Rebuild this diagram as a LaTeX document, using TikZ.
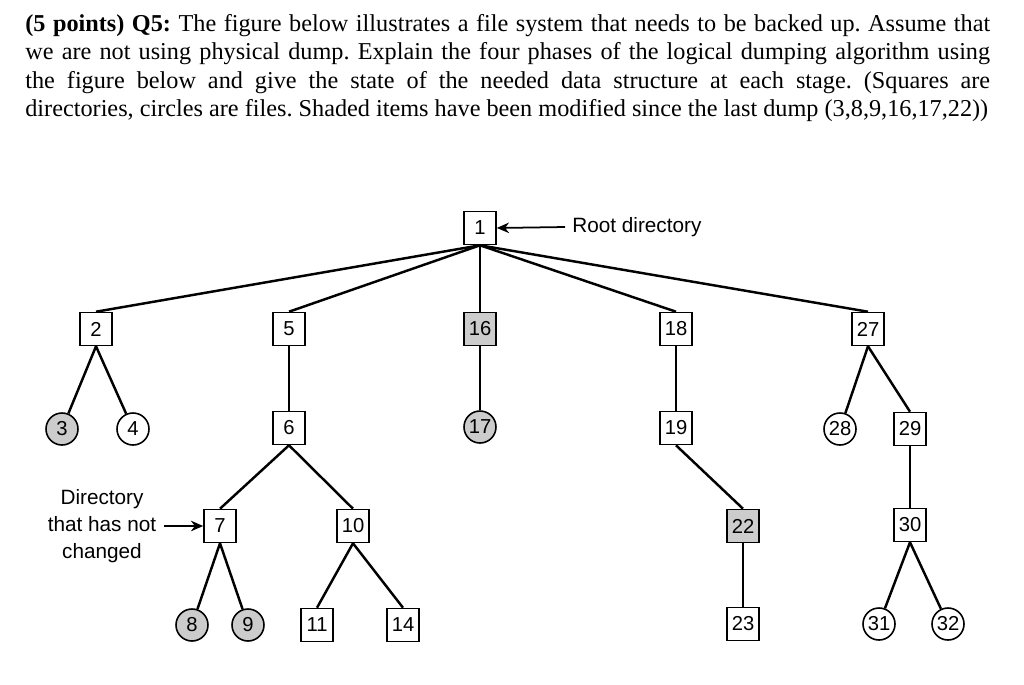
\documentclass[tikz,border=0pt]{standalone}
\usepackage{fontspec}
\setmainfont{Liberation Serif}
\newfontfamily\labelfont{Liberation Sans}
\usetikzlibrary{arrows.meta, positioning}
\definecolor{modgray}{HTML}{CCCCCC}

\begin{document}
\begin{tikzpicture}[x=0.02cm, y=-0.02cm,
  dirbox/.style={draw, line width=0.9pt, minimum width=0.64cm, minimum height=0.66cm,
    inner sep=0pt, font=\labelfont\fontsize{11.5}{12}\selectfont},
  filenode/.style={draw, circle, line width=0.9pt, minimum size=0.64cm,
    inner sep=0pt, font=\labelfont\fontsize{11.5}{12}\selectfont},
  changed/.style={fill=modgray},
  edge/.style={line width=1.4pt},
  pointer/.style={line width=1pt, -{Stealth[length=7pt, width=6pt]}},
  note/.style={font=\labelfont\fontsize{11.8}{15.3}\selectfont, inner xsep=4pt}]

  \useasboundingbox (0,0) rectangle (1024,684);

  % question text
  \node[anchor=north west, inner sep=0pt, text width=19.3cm, align=justify,
        font=\fontsize{13.8}{16.2}\selectfont] (question) at (25,14) {%
    \frenchspacing\parfillskip=0pt
    \textbf{(5 points) Q5:} The figure below illustrates a file system that needs to be backed up. Assume that\linebreak
    we are not using physical dump. Explain the four phases of the logical dumping algorithm using\linebreak
    the figure below and give the state of the needed data structure at each stage. (Squares are\linebreak
    directories, circles are files. Shaded items have been modified since the last dump (3,8,9,16,17,22))};

  % tree
  \node[dirbox] (n1) at (480,228) {1};

  \node[dirbox] (n2) at (96,329) {2};
  \node[dirbox] (n5) at (289,329) {5};
  \node[dirbox, changed] (n16) at (480,329) {16};
  \node[dirbox] (n18) at (676,329) {18};
  \node[dirbox] (n27) at (868,329) {27};

  \node[filenode, changed] (n3) at (62,429) {3};
  \node[filenode] (n4) at (133,429) {4};
  \node[dirbox] (n6) at (289,428) {6};
  \node[filenode, changed] (n17) at (480,427) {17};
  \node[dirbox] (n19) at (676,428) {19};
  \node[filenode] (n28) at (840,429) {28};
  \node[dirbox] (n29) at (910,429) {29};

  \node[dirbox] (n7) at (220,526) {7};
  \node[dirbox] (n10) at (353,526) {10};
  \node[dirbox, changed] (n22) at (743,526) {22};
  \node[dirbox] (n30) at (910,525) {30};

  \node[filenode, changed] (n8) at (192,625) {8};
  \node[filenode, changed] (n9) at (248,625) {9};
  \node[dirbox] (n11) at (317,625) {11};
  \node[dirbox] (n14) at (403,625) {14};
  \node[dirbox] (n23) at (743,624) {23};
  \node[filenode] (n31) at (879,624) {31};
  \node[filenode] (n32) at (948,624) {32};

  \draw[edge] (n1.south) -- (n2.north);
  \draw[edge] (n1.south) -- (n5.north);
  \draw[edge] (n1.south) -- (n16.north);
  \draw[edge] (n1.south) -- (n18.north);
  \draw[edge] (n1.south) -- (n27.north);

  \draw[edge] (n2.south) -- (n3);
  \draw[edge] (n2.south) -- (n4);
  \draw[edge] (n5) -- (n6);
  \draw[edge] (n16) -- (n17);
  \draw[edge] (n18) -- (n19);
  \draw[edge] (n27.south) -- (n28);
  \draw[edge] (n27.south) -- (n29.north);

  \draw[edge] (n6.south) -- (n7.north);
  \draw[edge] (n6.south) -- (n10.north);
  \draw[edge] (n19.south) -- (n22.north);
  \draw[edge] (n29) -- (n30);

  \draw[edge] (n7.south) -- (n8);
  \draw[edge] (n7.south) -- (n9);
  \draw[edge] (n10.south) -- (n11.north);
  \draw[edge] (n10.south) -- (n14.north);
  \draw[edge] (n22) -- (n23);
  \draw[edge] (n30.south) -- (n31);
  \draw[edge] (n30.south) -- (n32);

  % labels
  \node[note, anchor=west] (rootlbl) at (565,227) {Root directory};
  \draw[pointer] (rootlbl.west) -- (n1.east);

  \node[note, align=center] (unchg) at (102,526) {Directory\\that has not\\changed};
  \draw[pointer] (unchg.east) -- (n7.west);
\end{tikzpicture}
\end{document}
